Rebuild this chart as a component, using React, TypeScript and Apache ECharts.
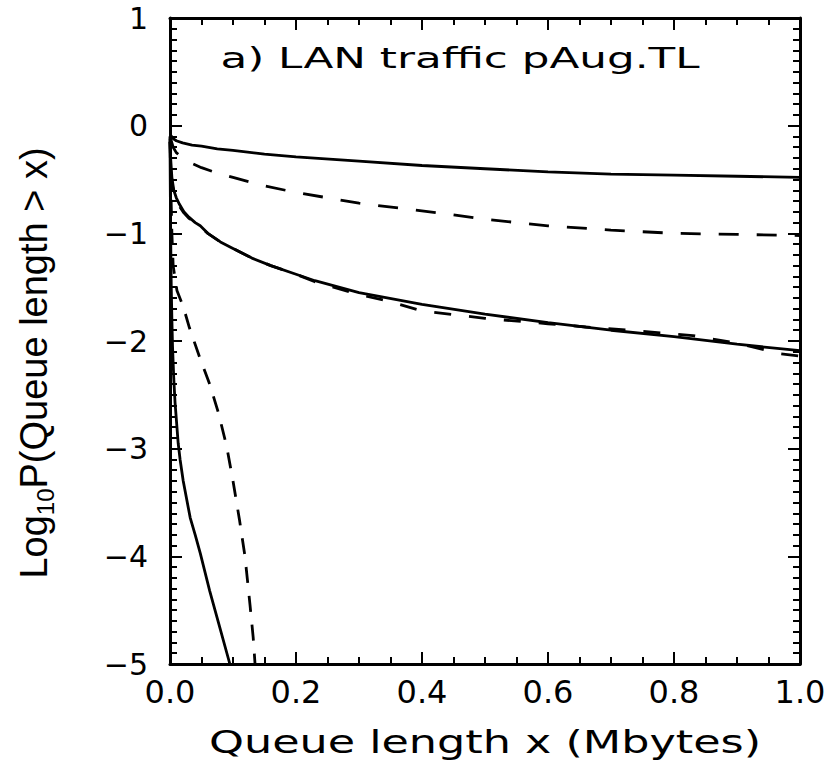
import React, { useEffect, useRef } from "react";
import * as echarts from "echarts";

// x tick labels / y tick labels
const xTicks = [0, 0.2, 0.4, 0.6, 0.8, 1.0];
const yTicks = [1, 0, -1, -2, -3, -4, -5];

// Curve A: top solid
const xA = [0, 0.005, 0.01, 0.02, 0.035, 0.05, 0.075, 0.1, 0.15, 0.2, 0.3, 0.4, 0.5, 0.6, 0.7, 0.8, 0.9, 1.0];
const yA = [-0.08, -0.12, -0.14, -0.16, -0.18, -0.19, -0.215, -0.23, -0.265, -0.29, -0.33, -0.37, -0.4, -0.43, -0.45, -0.46, -0.47, -0.48];

// Curve B: top dashed
const xB = [0, 0.005, 0.01, 0.02, 0.035, 0.05, 0.075, 0.1, 0.15, 0.2, 0.3, 0.44, 0.5, 0.6, 0.7, 0.8, 0.9, 1.0];
const yB = [-0.1, -0.2, -0.25, -0.3, -0.35, -0.39, -0.44, -0.48, -0.56, -0.62, -0.72, -0.82, -0.87, -0.93, -0.97, -1.0, -1.01, -1.02];

// Curve C: middle solid
const xC = [0, 0.001, 0.003, 0.006, 0.01, 0.015, 0.022, 0.03, 0.04, 0.048, 0.06, 0.08, 0.1, 0.13, 0.16, 0.2, 0.23, 0.3, 0.4, 0.5, 0.6, 0.7, 0.8, 0.9, 1.0];
const yC = [-0.1, -0.3, -0.48, -0.6, -0.67, -0.73, -0.8, -0.85, -0.9, -0.93, -1.0, -1.08, -1.14, -1.23, -1.3, -1.38, -1.44, -1.55, -1.66, -1.75, -1.83, -1.9, -1.96, -2.03, -2.09];

// Curve D: middle dashed
const xD = [0, 0.001, 0.003, 0.006, 0.01, 0.015, 0.022, 0.03, 0.04, 0.048, 0.06, 0.08, 0.1, 0.13, 0.16, 0.2, 0.23, 0.3, 0.34, 0.4, 0.5, 0.6, 0.66, 0.75, 0.83, 0.9, 0.97, 1.0];
const yD = [-0.12, -0.35, -0.52, -0.63, -0.69, -0.75, -0.81, -0.86, -0.9, -0.94, -1.0, -1.08, -1.14, -1.23, -1.3, -1.38, -1.45, -1.57, -1.62, -1.72, -1.79, -1.84, -1.87, -1.91, -1.95, -2.02, -2.12, -2.14];

// Curve E: steep dashed
const xE = [0, 0.001, 0.002, 0.003, 0.005, 0.011, 0.021, 0.031, 0.047, 0.063, 0.077, 0.09, 0.1, 0.11, 0.119, 0.127, 0.132, 0.135];
const yE = [-0.15, -0.45, -0.75, -1.0, -1.3, -1.53, -1.68, -1.88, -2.15, -2.4, -2.67, -2.98, -3.3, -3.65, -4.0, -4.45, -4.75, -5.0];

// Curve F: steep solid
const xF = [0, 0.0005, 0.001, 0.002, 0.003, 0.004, 0.006, 0.008, 0.013, 0.016, 0.021, 0.032, 0.04, 0.048, 0.063, 0.079, 0.095];
const yF = [-0.15, -0.6, -1.0, -1.5, -1.8, -2.05, -2.35, -2.57, -2.95, -3.1, -3.3, -3.64, -3.8, -3.97, -4.32, -4.66, -5.0];

const titleText = "a) LAN traffic pAug.TL";
const xName = "Queue length x (Mbytes)";

const pairs = (xs: number[], ys: number[]) => xs.map((x, i) => [x, ys[i]]);

export default function App() {
  const ref = useRef<HTMLDivElement>(null);
  useEffect(() => {
    if (!ref.current) return;
    const chart = echarts.init(ref.current, null, { renderer: "svg" });
    const axisLine = { show: true, onZero: false, lineStyle: { color: "#000", width: 3 } };
    const tick = { show: true, inside: true, length: 12, lineStyle: { color: "#000", width: 2 } };
    const minorTickX = { show: true, splitNumber: 4, length: 7, lineStyle: { color: "#000", width: 2 } };
    const minorTickY = { show: true, splitNumber: 10, length: 7, lineStyle: { color: "#000", width: 2 } };
    const labelFont = { fontFamily: "DejaVu Sans", fontSize: 32, color: "#000" };
    const fmtY = (v: number) => (v < 0 ? "\u2212" + Math.abs(v) : String(v));
    const line = (xs: number[], ys: number[], dashed: boolean, dash?: number[]) => ({
      type: "line",
      data: pairs(xs, ys),
      showSymbol: false,
      smooth: false,
      clip: true,
      lineStyle: { color: "#000", width: 2.8, type: dashed ? dash : "solid" },
      xAxisIndex: 0,
      yAxisIndex: 0,
    });
    chart.setOption({
      animation: false,
      backgroundColor: "#fff",
      grid: { left: 170, top: 12, width: 630, height: 652, containLabel: false },
      xAxis: [
        {
          type: "value",
          position: "bottom",
          min: xTicks[0],
          max: xTicks[xTicks.length - 1],
          interval: 0.2,
          axisLine,
          axisTick: tick,
          minorTick: minorTickX,
          splitLine: { show: false },
          axisLabel: { ...labelFont, margin: 12, formatter: (v: number) => v.toFixed(1) },
        },
        {
          type: "value",
          position: "top",
          min: 0,
          max: 1,
          interval: 0.2,
          axisLine,
          axisTick: tick,
          minorTick: minorTickX,
          splitLine: { show: false },
          axisLabel: { show: false },
        },
      ],
      yAxis: [
        {
          type: "value",
          position: "left",
          min: yTicks[yTicks.length - 1],
          max: yTicks[0],
          interval: 1,
          axisLine,
          axisTick: tick,
          minorTick: minorTickY,
          splitLine: { show: false },
          axisLabel: {
            fontFamily: "DejaVu Sans",
            fontSize: 30,
            color: "#000",
            lineHeight: 24,
            padding: [12, 0, 0, 0],
            margin: 22,
            formatter: fmtY,
          },
          name: "{a|Log}{s|10}{a|P(Queue length > x)}",
          nameLocation: "middle",
          nameRotate: 90,
          nameGap: 113,
          nameTextStyle: {
            padding: [0, 44, 0, 0],
            rich: {
              a: { fontFamily: "Liberation Sans", fontSize: 38, lineHeight: 46, color: "#000" },
              s: { fontFamily: "Liberation Sans", fontSize: 24, lineHeight: 24, verticalAlign: "bottom", color: "#000" },
            },
          },
        },
        {
          type: "value",
          position: "right",
          min: -5,
          max: 1,
          interval: 1,
          axisLine,
          axisTick: tick,
          minorTick: minorTickY,
          splitLine: { show: false },
          axisLabel: { show: false },
        },
      ],
      graphic: [
        {
          type: "text",
          x: 460,
          y: 58,
          scaleX: 1.56,
          style: {
            text: titleText,
            fontFamily: "DejaVu Sans",
            fontSize: 28,
            fill: "#000",
            align: "center",
            verticalAlign: "middle",
          },
        },
        {
          type: "text",
          x: 485,
          y: 742,
          scaleX: 1.39,
          style: {
            text: xName,
            fontFamily: "DejaVu Sans",
            fontSize: 32,
            fill: "#000",
            align: "center",
            verticalAlign: "middle",
          },
        },
      ],
      series: [
        line(xA, yA, false),
        line(xB, yB, true, [20, 18]),
        line(xC, yC, false),
        line(xD, yD, true, [17, 18]),
        line(xE, yE, true, [16, 13]),
        line(xF, yF, false),
      ],
    });
    return () => chart.dispose();
  }, []);
  return <div ref={ref} style={{ width: 836, height: 761, position: "absolute", left: 0, top: 0 }} />;
}
